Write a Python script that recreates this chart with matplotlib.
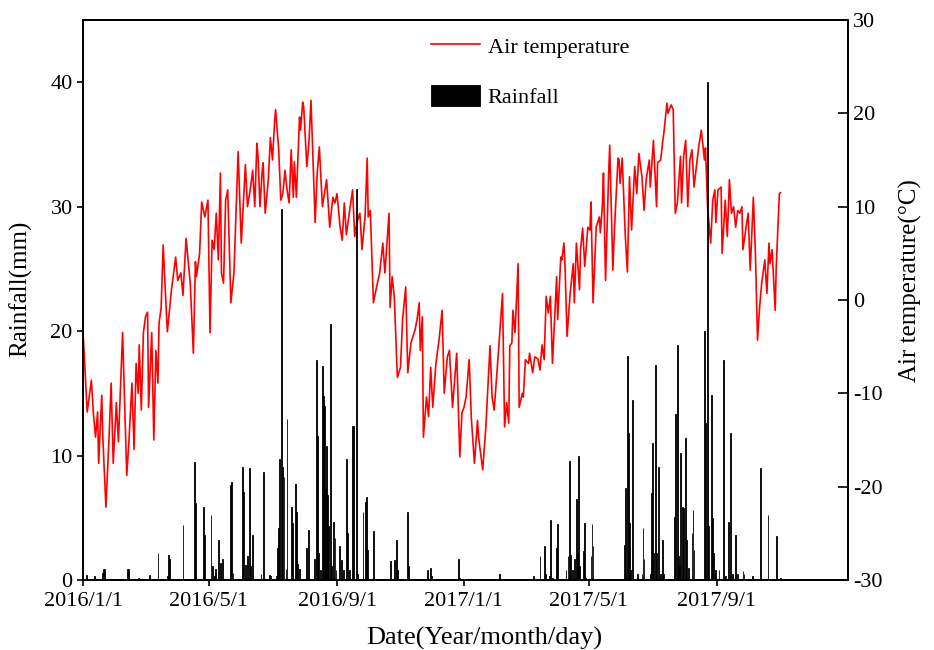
import matplotlib
matplotlib.use('Agg')
import matplotlib.pyplot as plt
import numpy as np

plt.rcParams['font.family'] = ['Liberation Serif', 'DejaVu Serif']
plt.rcParams['axes.unicode_minus'] = False

# days counted from 2016/1/1
tick_days = [0, 121, 244, 366, 486, 609]
tick_labels = ['2016/1/1', '2016/5/1', '2016/9/1', '2017/1/1', '2017/5/1', '2017/9/1']

# daily air temperature (deg C)
temp_day = [0, 4, 8, 10, 12, 14, 15, 18, 19, 22, 25, 27, 29, 32, 34, 38, 42, 44, 47, 49,
            51, 53, 54, 56, 58, 60, 62, 63, 66, 68, 70, 72, 73, 75, 77, 79, 81, 85, 89, 91,
            94, 96, 99, 103, 106, 108, 109, 112, 114, 117, 120, 122, 124, 126, 128, 130, 132, 133, 135, 137,
            139, 142, 145, 149, 152, 156, 158, 161, 163, 165, 167, 168, 170, 172, 173, 175, 178, 180, 182, 184,
            185, 188, 190, 192, 194, 196, 198, 200, 202, 203, 205, 208, 209, 211, 212, 215, 217, 219, 223, 225,
            227, 230, 234, 237, 240, 242, 244, 247, 249, 251, 253, 256, 259, 261, 263, 266, 268, 271, 273, 274,
            276, 279, 282, 285, 288, 290, 294, 295, 297, 299, 302, 305, 307, 310, 312, 315, 319, 321, 323, 324,
            326, 327, 330, 332, 334, 336, 339, 342, 345, 347, 350, 352, 355, 359, 362, 364, 366, 368, 371, 373,
            376, 379, 380, 384, 387, 391, 393, 395, 399, 403, 405, 407, 409, 410, 412, 413, 415, 418, 419, 422,
            423, 425, 428, 429, 432, 434, 437, 439, 441, 443, 445, 447, 449, 451, 455, 456, 459, 460, 462, 463,
            465, 468, 471, 472, 474, 477, 478, 480, 482, 485, 487, 488, 490, 493, 496, 497, 499, 500, 502, 505,
            506, 509, 511, 514, 515, 516, 518, 521, 523, 525, 527, 530, 532, 534, 537, 539, 541, 544, 545, 548,
            551, 552, 555, 557, 558, 561, 562, 565, 567, 569, 571, 574, 575, 577, 579, 581, 583, 585, 587, 590,
            592, 594, 597, 598, 600, 603, 605, 607, 608, 610, 613, 614, 617, 619, 621, 623, 625, 627, 629, 631,
            633, 634, 637, 639, 641, 644, 646, 648, 650, 652, 655, 657, 659, 660, 662, 665, 666, 669, 670]
temp_c = [-3.4, -12.0, -8.6, -12.2, -14.7, -12.0, -17.5, -10.2, -14.7, -22.2, -14.7, -8.9, -17.5, -11.0, -15.2, -3.5, -18.8, -15.3, -8.9, -16.0,
          -6.8, -10.0, -4.8, -11.8, -3.5, -1.8, -1.3, -11.5, -3.5, -15.0, -5.4, -8.9, -2.5, -0.9, 5.9, 1.1, -3.4, 1.1, 4.6, 2.1,
          2.9, 0.5, 6.6, 1.8, -5.7, 4.1, 2.5, 5.0, 10.5, 8.9, 10.7, -3.5, 6.4, 5.4, 9.3, 4.3, 13.6, 2.9, 1.8, 10.7,
          11.8, -0.3, 2.9, 15.9, 6.1, 14.5, 10.0, 12.1, 13.9, 10.0, 16.8, 15.7, 10.0, 13.6, 14.7, 9.3, 12.9, 17.4, 15.0, 19.0,
          20.4, 16.1, 10.7, 11.4, 13.9, 11.8, 10.4, 16.1, 11.0, 14.8, 11.0, 19.6, 18.2, 21.2, 20.7, 14.3, 16.8, 21.4, 8.3, 13.6,
          16.4, 10.0, 12.9, 7.8, 11.0, 10.4, 11.4, 7.8, 6.4, 10.4, 7.0, 9.5, 11.8, 6.8, 8.3, 9.3, 5.4, 9.0, 15.2, 8.9,
          9.6, -0.3, 1.4, 2.9, 6.1, 2.9, 9.3, -0.8, 2.5, 0.4, -8.3, -7.2, -2.1, 1.4, -7.8, -4.6, -3.2, -2.0, -0.3, -5.4,
          -1.8, -14.7, -10.4, -12.5, -7.2, -11.5, -6.8, -4.3, -1.1, -10.0, -6.1, -5.4, -11.5, -5.7, -16.8, -12.1, -11.5, -10.4, -6.4, -12.5,
          -17.5, -12.9, -14.7, -18.2, -13.6, -4.9, -10.4, -11.8, -5.7, 0.7, -13.6, -11.0, -13.2, -4.9, -4.6, -1.1, -3.5, 3.9, -11.5, -10.0,
          -10.4, -6.4, -6.8, -5.7, -7.8, -6.1, -6.3, -7.5, -4.8, -6.4, 0.4, -1.4, 0.4, -6.8, 2.5, -2.1, 4.6, 4.3, 6.1, 3.9,
          -3.9, 0.7, 3.9, -0.3, 6.1, 1.1, 5.4, 7.7, 3.6, 7.8, 7.5, 10.5, -0.3, 7.8, 8.9, 7.2, 10.2, 13.6, 2.1, 13.6,
          16.6, 3.2, 8.6, 15.2, 15.0, 12.5, 15.2, 6.8, 3.0, 13.2, 7.5, 14.3, 11.4, 15.7, 13.2, 9.6, 12.9, 15.0, 12.1, 17.1,
          10.0, 14.7, 15.0, 17.1, 17.9, 21.1, 20.0, 20.9, 20.4, 9.3, 10.4, 15.4, 10.4, 15.4, 17.1, 10.0, 15.0, 16.1, 12.1, 15.0,
          16.8, 18.2, 15.0, 16.3, 10.0, 6.1, 10.7, 11.8, 8.3, 11.8, 12.1, 5.0, 10.7, 6.8, 12.9, 9.3, 10.0, 7.8, 9.6, 9.3,
          10.0, 5.4, 7.8, 9.3, 3.2, 11.0, 5.0, -4.3, -0.8, 1.8, 4.3, 0.7, 6.1, 3.9, 5.4, -1.1, 3.6, 11.4, 11.5]

# daily rainfall (mm)
rain_day = [3, 11, 19, 20, 21, 43, 44, 53, 64, 72, 81, 82, 83, 96, 107, 108, 116, 117, 123, 124,
            126, 127, 130, 132, 134, 142, 143, 144, 153, 154, 156, 158, 160, 161, 163, 171, 173, 179, 180, 186,
            187, 188, 189, 191, 192, 193, 195, 196, 200, 201, 204, 205, 206, 208, 215, 217, 222, 224, 225, 226,
            228, 230, 231, 232, 233, 234, 235, 236, 238, 239, 241, 242, 243, 246, 248, 250, 253, 254, 256, 259,
            260, 263, 264, 269, 271, 272, 273, 279, 295, 299, 301, 302, 312, 313, 331, 334, 335, 361, 362, 400,
            433, 439, 443, 444, 448, 449, 451, 455, 456, 464, 466, 467, 468, 470, 472, 474, 475, 476, 477, 481,
            482, 483, 488, 489, 490, 491, 520, 521, 523, 524, 525, 526, 528, 533, 537, 538, 539, 545, 546, 547,
            548, 550, 551, 553, 555, 557, 558, 568, 569, 571, 572, 573, 574, 576, 577, 579, 580, 582, 585, 586,
            587, 588, 597, 598, 600, 601, 604, 605, 606, 608, 611, 615, 617, 620, 622, 624, 627, 629, 634, 635,
            643, 651, 658, 666, 670]
rain_mm = [0.4, 0.3, 0.6, 0.9, 0.9, 0.9, 0.9, 0.2, 0.4, 2.2, 0.3, 2.0, 1.7, 4.4, 9.5, 6.2, 5.9, 3.6, 5.2, 1.1,
           0.3, 0.9, 3.2, 1.4, 1.7, 7.6, 7.9, 0.6, 9.1, 7.1, 1.2, 1.9, 9.0, 1.1, 3.6, 0.5, 8.7, 0.4, 0.3, 0.3,
           2.6, 4.2, 9.7, 29.8, 9.1, 8.3, 0.9, 12.9, 5.9, 4.6, 7.7, 5.5, 1.3, 0.9, 2.6, 4.0, 1.7, 17.7, 11.6, 2.2,
           0.8, 17.2, 14.8, 14.0, 7.3, 10.8, 6.8, 4.3, 20.6, 1.1, 4.7, 3.4, 0.8, 2.7, 1.6, 0.8, 9.7, 3.8, 0.8, 12.4,
           12.4, 31.4, 0.5, 5.5, 6.3, 6.7, 2.4, 3.9, 1.5, 1.6, 3.2, 0.8, 5.5, 1.1, 0.8, 1.0, 0.3, 1.7, 0.2, 0.5,
           0.3, 1.9, 2.7, 0.5, 0.3, 4.8, 0.2, 2.6, 4.5, 0.8, 1.9, 9.6, 2.0, 0.8, 1.7, 6.5, 2.2, 10.0, 1.1, 2.3,
           4.6, 0.2, 1.9, 4.5, 2.7, 0.1, 2.8, 7.4, 18.0, 11.8, 4.6, 0.8, 14.5, 0.5, 0.5, 4.2, 1.7, 0.5, 7.0, 11.0,
           2.2, 17.3, 2.2, 9.1, 0.5, 3.2, 0.5, 5.1, 13.3, 18.9, 1.9, 1.1, 10.2, 5.9, 5.8, 11.4, 3.2, 1.0, 3.8, 5.6,
           2.4, 0.1, 20.0, 12.6, 40.0, 4.3, 14.9, 5.0, 2.2, 0.8, 0.8, 17.7, 0.3, 4.7, 11.8, 0.5, 3.6, 0.5, 0.7, 0.5,
           0.3, 9.0, 5.2, 3.5, 0.2]

fig = plt.figure(figsize=(9.34, 6.5), dpi=100)
ax = fig.add_axes([0.0889, 0.1077, 0.8191, 0.8615])
ax2 = ax.twinx()

bars = ax.bar(rain_day, rain_mm, width=0.8, color='black', edgecolor='black',
              linewidth=0.6, label='Rainfall')
line, = ax2.plot(temp_day, temp_c, color='red', linewidth=1.2, label='Air temperature')

# rainfall bars sit on top of the temperature curve
ax.set_zorder(ax2.get_zorder() + 1)
ax.patch.set_visible(False)

ax.set_xlim(0, 735)
ax.set_ylim(0, 45)
ax2.set_ylim(-30, 30)
ax.set_yticks([0, 10, 20, 30, 40])
ax2.set_yticks([-30, -20, -10, 0, 10, 20, 30])
ax.set_xticks(tick_days)
ax.set_xticklabels(tick_labels)

ax.tick_params(axis='x', direction='out', length=4, width=1.2, labelsize=16, pad=5)
ax.tick_params(axis='y', direction='out', length=4, width=1.2, labelsize=16)
ax2.tick_params(axis='y', direction='in', length=7, width=1.2, labelsize=16)
for a in (ax, ax2):
    for s in a.spines.values():
        s.set_linewidth(1.4)

ax.set_xlabel('Date(Year/month/day)', fontsize=19)
ax.xaxis.set_label_coords(0.525, -0.083)
ax.set_ylabel('Rainfall(mm)', fontsize=18)
ax.yaxis.set_label_coords(-0.066, 0.52)
ax2.set_ylabel('Air temperature(°C)', fontsize=18)
ax2.yaxis.set_label_coords(1.067, 0.535)

ax.legend([line, bars], ['Air temperature', 'Rainfall'], loc='upper left',
          bbox_to_anchor=(0.455, 0.973), frameon=False, fontsize=16,
          borderpad=0, borderaxespad=0, handlelength=2.2, handleheight=1.1,
          handletextpad=0.35, labelspacing=1.2)

fig.savefig('out.png', dpi=100)
